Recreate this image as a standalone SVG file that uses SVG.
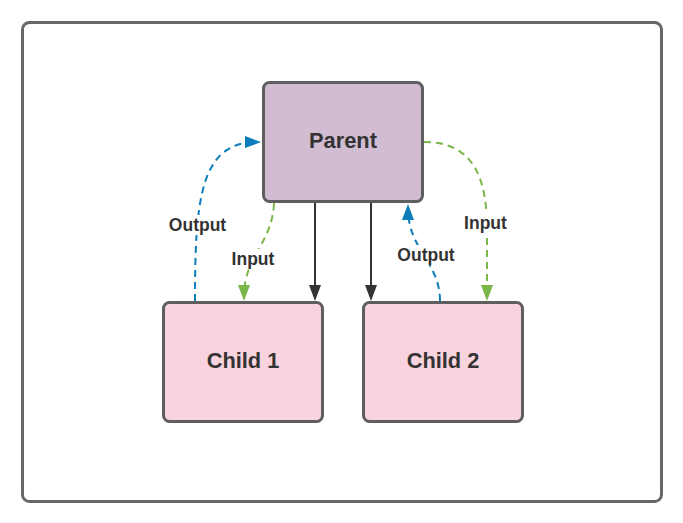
<svg xmlns="http://www.w3.org/2000/svg" width="683" height="523" viewBox="0 0 683 523">
<style>
.frame{fill:#ffffff;stroke:#676767;stroke-width:3}
.node{stroke:#5e5e5e;stroke-width:3}
.parent{fill:#d1bcd2}
.child{fill:#f9d3de}
.ntext{font-family:"Liberation Sans",Arial,sans-serif;font-weight:bold;font-size:21.8px;fill:#333333;text-anchor:middle}
.ltext{font-family:"Liberation Sans",Arial,sans-serif;font-weight:bold;font-size:17.5px;fill:#333333;text-anchor:middle}
.solid{fill:none;stroke:#333333;stroke-width:2}
.blue{fill:none;stroke:#0c7cba;stroke-width:2;stroke-dasharray:7,5}
.green{fill:none;stroke:#7ab648;stroke-width:2;stroke-dasharray:7,5}
.lbg{fill:#ffffff}
</style>
<defs>
<marker id="ab" markerUnits="userSpaceOnUse" markerWidth="18" markerHeight="14" refX="12" refY="6.5" orient="auto"><path d="M0,0.5 L16,6.5 L0,12.5 z" fill="#333333"/></marker>
<marker id="ablue" markerUnits="userSpaceOnUse" markerWidth="18" markerHeight="14" refX="12" refY="6.5" orient="auto"><path d="M0,0.5 L16,6.5 L0,12.5 z" fill="#0c7cba"/></marker>
<marker id="agreen" markerUnits="userSpaceOnUse" markerWidth="18" markerHeight="14" refX="12" refY="6.5" orient="auto"><path d="M0,0.5 L16,6.5 L0,12.5 z" fill="#7ab648"/></marker>
</defs>
<rect class="frame" x="22.5" y="22.5" width="639" height="479" rx="7"/>
<g id="connectors">
<path class="solid" d="M315,203 L315,297" marker-end="url(#ab)"/>
<path class="solid" d="M371,203 L371,297" marker-end="url(#ab)"/>
<path class="blue" d="M195,301 C195,200 200,142 257,142" marker-end="url(#ablue)"/>
<path class="green" d="M274,203 C272,245 244,255 244,297" marker-end="url(#agreen)"/>
<path class="blue" d="M440,301 C440,262 408,250 408,208" marker-end="url(#ablue)"/>
<path class="green" d="M424,142 C475,142 487,180 487,230 L487,297" marker-end="url(#agreen)"/>
<rect class="lbg" x="165" y="215" width="65" height="20"/>
<text class="ltext" x="197.5" y="231">Output</text>
<rect class="lbg" x="229" y="249" width="48" height="20"/>
<text class="ltext" x="253" y="265">Input</text>
<rect class="lbg" x="394" y="245" width="65" height="20"/>
<text class="ltext" x="426" y="261">Output</text>
<rect class="lbg" x="461" y="213" width="48" height="20"/>
<text class="ltext" x="485.5" y="229">Input</text>
</g>
<g id="parent">
<rect class="node parent" x="263.5" y="82.5" width="159" height="119" rx="6"/>
<text class="ntext" x="343" y="148">Parent</text>
</g>
<g id="child1">
<rect class="node child" x="163.5" y="302.5" width="159" height="119" rx="6"/>
<text class="ntext" x="243" y="368">Child 1</text>
</g>
<g id="child2">
<rect class="node child" x="363.5" y="302.5" width="159" height="119" rx="6"/>
<text class="ntext" x="443" y="368">Child 2</text>
</g>
</svg>
